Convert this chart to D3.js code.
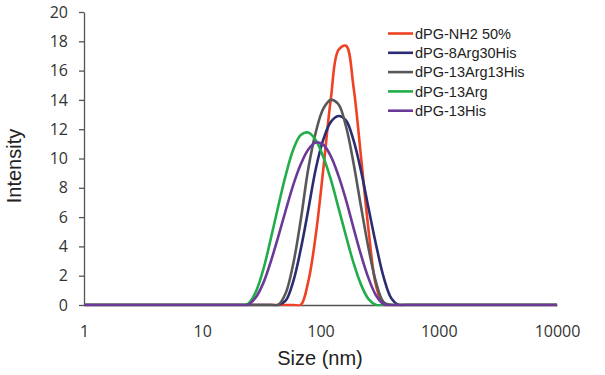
<!DOCTYPE html>
<html>
<head>
<meta charset="utf-8">
<script src="https://cdn.jsdelivr.net/npm/d3@7"></script>
<style>
  html, body { margin: 0; padding: 0; background: #fff; }
  svg { display: block; }
</style>
</head>
<body>
<svg id="chart" width="605" height="375"></svg>
<script>
// Size bins (nm)
const sizes = [1, 15.69, 18.17, 21.04, 24.36, 28.21, 32.67, 37.84, 43.82, 50.75, 58.77, 68.06, 78.82, 91.28, 105.7, 122.4, 141.8, 164.2, 190.1, 220.2, 255.0, 295.3, 342.0, 396.1, 458.7, 531.2, 10000];

const seriesNames = ["dPG-NH2 50%", "dPG-8Arg30His", "dPG-13Arg13His", "dPG-13Arg", "dPG-13His"];
const seriesColors = ["#ef4123", "#2b2c72", "#58585a", "#22ad4b", "#6b3a99"];

const nh2_50 =      [0, 0, 0, 0, 0, 0, 0, 0, 0, 0, 0, 0, 1.6, 4.8, 9.3, 14.1, 17.4, 17.7, 14.9, 10.1, 5.1, 1.3, 0, 0, 0, 0, 0];
const arg8his30 =   [0, 0, 0, 0, 0, 0, 0, 0, 0, 0.3, 1.6, 3.8, 6.5, 9.3, 11.3, 12.5, 12.9, 12.6, 11.25, 9.15, 6.6, 4.1, 1.9, 0.47, 0, 0, 0];
const arg13his13 =  [0, 0, 0, 0, 0, 0, 0, 0, 0, 0.8, 2.8, 5.8, 9.3, 11.8, 13.4, 14.0, 13.7, 12.2, 9.7, 6.7, 3.85, 1.53, 0.2, 0, 0, 0, 0];
const arg13 =       [0, 0, 0, 0, 0.07, 0.85, 2.36, 4.46, 6.7, 8.85, 10.6, 11.6, 11.77, 11.25, 10.1, 8.55, 6.65, 4.72, 2.88, 1.39, 0.4, 0, 0, 0, 0, 0, 0];
const his13 =       [0, 0, 0, 0, 0.02, 0.49, 1.46, 2.92, 4.63, 6.45, 8.18, 9.6, 10.62, 11.09, 10.93, 10.15, 8.83, 7.18, 5.27, 3.42, 1.82, 0.65, 0.06, 0, 0, 0, 0];

const seriesValues = [nh2_50, arg8his30, arg13his13, arg13, his13];

const xTicks = [1, 10, 100, 1000, 10000];
const yTicks = [0, 2, 4, 6, 8, 10, 12, 14, 16, 18, 20];

const svg = d3.select("#chart");
const plotLeft = 84, plotRight = 557, plotTop = 12, plotBottom = 305;

const x = d3.scaleLog().domain([1, 10000]).range([plotLeft, plotRight]);
const y = d3.scaleLinear().domain([0, 20]).range([plotBottom, plotTop]);

const axisColor = "#555555";
const textColor = "#333333";

// Y axis
const yAxis = svg.append("g")
  .attr("transform", `translate(${plotLeft},0)`)
  .call(d3.axisLeft(y).tickValues(yTicks).tickSize(5).tickSizeOuter(0).tickPadding(11).tickFormat(d3.format("d")));
yAxis.select(".domain").attr("stroke", axisColor).attr("stroke-width", 1.3);
yAxis.selectAll(".tick line").attr("stroke", axisColor).attr("stroke-width", 1.3);
yAxis.selectAll(".tick text")
  .attr("fill", textColor)
  .style("font-family", "'Open Sans', 'Liberation Sans', sans-serif")
  .style("font-size", "16px");

// X axis
const xAxis = svg.append("g")
  .attr("transform", `translate(0,${plotBottom})`)
  .call(d3.axisBottom(x).tickValues(xTicks).tickSize(0).tickPadding(21).tickFormat(d3.format("d")));
xAxis.select(".domain").attr("stroke", axisColor).attr("stroke-width", 1.3);
xAxis.selectAll(".tick text")
  .attr("fill", textColor)
  .style("font-family", "'Open Sans', 'Liberation Sans', sans-serif")
  .style("font-size", "16px");

// Lines (clip slightly below baseline to hide spline overshoot)
svg.append("clipPath").attr("id", "plotClip")
  .append("rect")
  .attr("x", plotLeft - 2).attr("y", 0)
  .attr("width", plotRight - plotLeft + 4).attr("height", plotBottom + 1.3);

const line = d3.line()
  .x((d, i) => x(sizes[i]))
  .y(d => y(d))
  .curve(d3.curveCatmullRom.alpha(0.5));

const linesG = svg.append("g").attr("clip-path", "url(#plotClip)");
seriesValues.forEach((vals, k) => {
  linesG.append("path")
    .datum(vals)
    .attr("fill", "none")
    .attr("stroke", seriesColors[k])
    .attr("stroke-width", 2.6)
    .attr("stroke-linejoin", "round")
    .attr("d", line);
});

// Axis titles
svg.append("text")
  .attr("x", 320).attr("y", 365)
  .attr("text-anchor", "middle")
  .attr("fill", "#222")
  .style("font-family", "'Liberation Sans', Arial, sans-serif")
  .style("font-size", "20px")
  .text("Size (nm)");

svg.append("text")
  .attr("transform", "translate(21,166) rotate(-90)")
  .attr("text-anchor", "middle")
  .attr("fill", "#222")
  .style("font-family", "'Liberation Sans', Arial, sans-serif")
  .style("font-size", "20px")
  .text("Intensity");

// Legend
const legend = svg.append("g");
seriesNames.forEach((name, k) => {
  const ly = 33.5 + k * 19.3;
  legend.append("line")
    .attr("x1", 388).attr("x2", 413)
    .attr("y1", ly).attr("y2", ly)
    .attr("stroke", seriesColors[k])
    .attr("stroke-width", 2.6);
  legend.append("text")
    .attr("x", 415).attr("y", ly)
    .attr("dy", "0.36em")
    .attr("fill", "#222")
    .style("font-family", "'Liberation Sans', Arial, sans-serif")
    .style("font-size", "14.5px")
    .text(name);
});
</script>
</body>
</html>
